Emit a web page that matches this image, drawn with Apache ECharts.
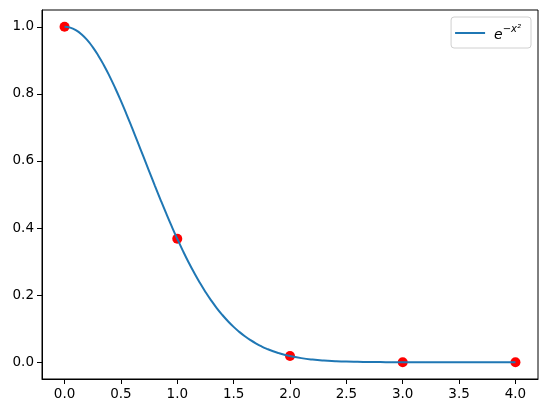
<!DOCTYPE html>
<html>
<head>
<meta charset="utf-8">
<script src="https://cdn.jsdelivr.net/npm/echarts@6/dist/echarts.min.js"></script>
<style>html,body{margin:0;padding:0;background:#fff}#c{width:547px;height:413px}</style>
</head>
<body>
<div id="c"></div>
<script>
var curveX = [0,0.05,0.1,0.15,0.2,0.25,0.3,0.35,0.4,0.45,0.5,0.55,0.6,0.65,0.7,0.75,0.8,0.85,0.9,0.95,1.0,1.05,1.1,1.15,1.2,1.25,1.3,1.35,1.4,1.45,1.5,1.55,1.6,1.65,1.7,1.75,1.8,1.85,1.9,1.95,2.0,2.1,2.2,2.3,2.4,2.5,2.6,2.7,2.8,2.9,3.0,3.2,3.5,4.0];
var curveY = [1,0.9975,0.9900,0.9778,0.9608,0.9394,0.9139,0.8847,0.8521,0.8167,0.7788,0.7390,0.6977,0.6554,0.6126,0.5698,0.5273,0.4856,0.4449,0.4056,0.3679,0.3321,0.2982,0.2665,0.2369,0.2096,0.1845,0.1616,0.1409,0.1222,0.1054,0.0905,0.0773,0.0657,0.0556,0.0468,0.0392,0.0326,0.0271,0.0223,0.0183,0.0122,0.0079,0.0050,0.0032,0.0019,0.0012,0.0007,0.0004,0.0002,0.0001,0,0,0];
var pointX = [0,1,2,3,4];
var pointY = [1,0.3679,0.0183,0.0001,0.0000];
var xTicks = [0,0.5,1,1.5,2,2.5,3,3.5,4];
var yTicks = [0,0.2,0.4,0.6,0.8,1.0];

var chart = echarts.init(document.getElementById('c'), null, {renderer:'canvas'});
var font = 'DejaVu Sans';
var axisLine = {show:true, onZero:false, lineStyle:{color:'#000', width:1}};
var labelStyle = {color:'#000', fontFamily:font, fontSize:13.5, margin:8, formatter:function(v){return v.toFixed(1);}};
chart.setOption({
  animation:false,
  backgroundColor:'#fff',
  grid:{left:42, right:9, top:10, bottom:34, show:true, borderColor:'#000', borderWidth:1, containLabel:false},
  xAxis:{type:'value', min:-0.2, max:4.2,
    axisLine:axisLine, splitLine:{show:false},
    axisTick:{show:true, length:5, lineStyle:{color:'#000'}, customValues:xTicks},
    axisLabel:Object.assign({}, labelStyle, {customValues:xTicks})
  },
  yAxis:{type:'value', min:-0.05, max:1.05,
    axisLine:axisLine, splitLine:{show:false},
    axisTick:{show:true, length:5, lineStyle:{color:'#000'}, customValues:yTicks},
    axisLabel:Object.assign({}, labelStyle, {customValues:yTicks})
  },
  legend:{
    data:['exp'], right:16, top:17, orient:'vertical',
    icon:'path://M0,0 L30,0 L30,2 L0,2 Z', itemWidth:30, itemHeight:2, itemGap:8,
    backgroundColor:'#fff', borderColor:'#d0d0d0', borderWidth:1, borderRadius:3,
    padding:[7,10,6,4],
    formatter:function(){return '{e|e}{s|−x²}';},
    textStyle:{color:'#000', fontFamily:font, rich:{
      e:{fontSize:14, fontStyle:'italic', fontFamily:font, verticalAlign:'bottom', padding:[4,0,0,4]},
      s:{fontSize:10, fontStyle:'italic', fontFamily:font, verticalAlign:'top', padding:[0,0,6,0]}
    }}
  },
  series:[
    {name:'pts', type:'scatter', symbolSize:10, itemStyle:{color:'#ff0000', opacity:1}, z:2,
     data:pointX.map(function(x,i){return [x,pointY[i]];})},
    {name:'exp', type:'line', smooth:true, showSymbol:false, symbol:'none', z:3,
     lineStyle:{color:'#1f77b4', width:2}, itemStyle:{color:'#1f77b4'},
     data:curveX.map(function(x,i){return [x,curveY[i]];})}
  ]
});
</script>
</body>
</html>
